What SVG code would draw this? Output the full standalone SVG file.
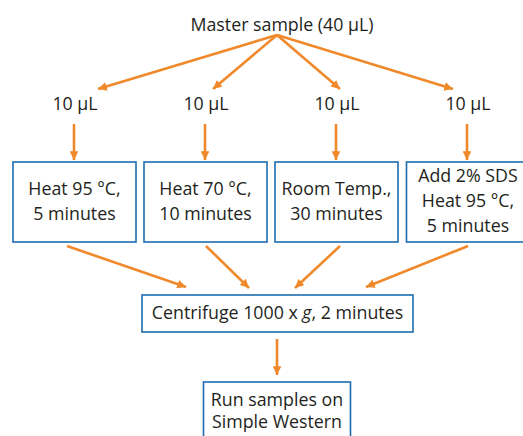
<svg xmlns="http://www.w3.org/2000/svg" width="523" height="436" viewBox="0 0 523 436">
<defs>
<marker id="ah" viewBox="0 0 10 10" refX="10" refY="5" markerWidth="3.4" markerHeight="3.4" orient="auto" markerUnits="strokeWidth">
<path d="M0,0 L10,5 L0,10 Z" fill="#f0892b"/>
</marker>
<style>
.t{font-family:"Open Sans","DejaVu Sans",sans-serif;font-size:17.8px;fill:#231f20;text-anchor:middle}
.b{fill:#fff;stroke:#1f6db0;stroke-width:1.6}
.c{stroke:#f0892b;stroke-width:2.6;fill:none;marker-end:url(#ah)}
</style>
</defs>
<rect width="523" height="436" fill="#fff"/>
<g id="master"><text class="t" x="282" y="31">Master sample (40 µL)</text></g>
<g id="a1"><text class="t" x="75" y="110">10 µL</text></g>
<g id="a2"><text class="t" x="206" y="110">10 µL</text></g>
<g id="a3"><text class="t" x="337" y="110">10 µL</text></g>
<g id="a4"><text class="t" x="468" y="110">10 µL</text></g>
<g id="box1"><rect class="b" x="13" y="162" width="123" height="80"/><text class="t" x="74.5" y="195">Heat 95 °C,</text><text class="t" x="74.5" y="220">5 minutes</text></g>
<g id="box2"><rect class="b" x="144" y="162" width="123" height="80"/><text class="t" x="205.5" y="195">Heat 70 °C,</text><text class="t" x="205.5" y="220">10 minutes</text></g>
<g id="box3"><rect class="b" x="275" y="162" width="123" height="80"/><text class="t" x="336.5" y="195">Room Temp.,</text><text class="t" x="336.5" y="220">30 minutes</text></g>
<g id="box4"><rect class="b" x="406.5" y="162" width="123" height="80"/><text class="t" x="468" y="182">Add 2% SDS</text><text class="t" x="468" y="207">Heat 95 °C,</text><text class="t" x="468" y="232">5 minutes</text></g>
<g id="centrifuge"><rect class="b" x="142" y="295" width="271" height="37"/><text class="t" x="277.5" y="319">Centrifuge 1000 x <tspan font-style="italic">g</tspan>, 2 minutes</text></g>
<g id="run"><rect class="b" x="203.5" y="382" width="147" height="60"/><text class="t" x="277" y="406">Run samples on</text><text class="t" x="277" y="428">Simple Western</text></g>
<g id="connectors">
<path class="c" d="M277,35 L98,89"/>
<path class="c" d="M277,35 L213,89"/>
<path class="c" d="M277,35 L340,89"/>
<path class="c" d="M277,35 L453,89"/>
<path class="c" d="M74,124 L74,160"/>
<path class="c" d="M205,124 L205,160"/>
<path class="c" d="M336,124 L336,160"/>
<path class="c" d="M467,124 L467,160"/>
<path class="c" d="M67,246 L186,287"/>
<path class="c" d="M206,246 L249,288"/>
<path class="c" d="M340,246 L295,288"/>
<path class="c" d="M468,246 L366,287"/>
<path class="c" d="M277,339 L277,375"/>
</g>
</svg>
